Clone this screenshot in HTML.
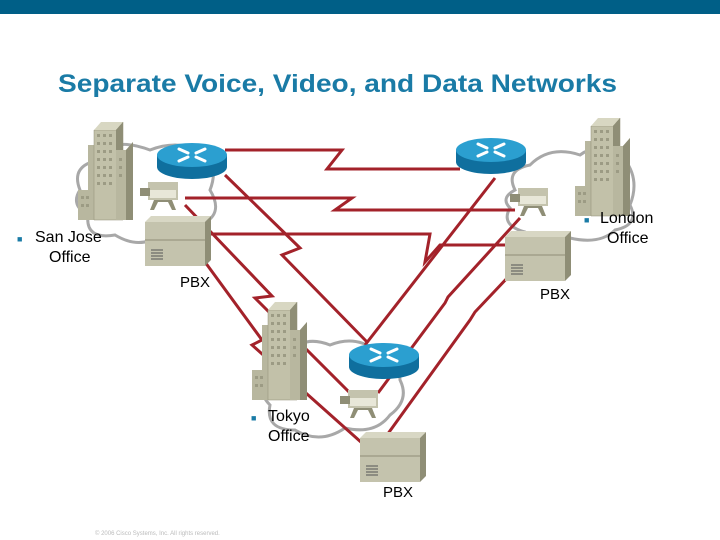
<!DOCTYPE html>
<html><head><meta charset="utf-8"><style>
html,body{margin:0;padding:0;background:#fff}
svg{display:block}
</style></head><body>
<svg width="720" height="540" viewBox="0 0 720 540" xmlns="http://www.w3.org/2000/svg" font-family="Liberation Sans, sans-serif">
<defs>
<g id="bld">
 <polygon points="10,25 22,25 26,20 26,95 10,95" fill="#b8b79f"/>
 <polygon points="22,25 26,20 26,95 22,95" fill="#8f8e76"/>
 <polygon points="0,70 12,70 16,65 16,100 0,100" fill="#b8b79f"/>
 <polygon points="16,10 38,10 45,2 45,100 16,100" fill="#c2c1a9" stroke="#8f8e76" stroke-width="0.5"/>
 <polygon points="16,10 23,2 45,2 38,10" fill="#d8d7c2"/>
 <polygon points="38,10 45,2 45,100 38,100" fill="#8f8e76"/>
 <polygon points="38,30 48,30 55,22 55,100 38,100" fill="#b8b79f"/>
 <polygon points="48,30 55,22 55,100 48,100" fill="#8f8e76"/>
 <g fill="#9c9b84">
  <rect x="19" y="14" width="3" height="3"/><rect x="25" y="14" width="3" height="3"/><rect x="31" y="14" width="3" height="3"/>
  <rect x="19" y="22" width="3" height="3"/><rect x="25" y="22" width="3" height="3"/><rect x="31" y="22" width="3" height="3"/>
  <rect x="19" y="30" width="3" height="3"/><rect x="25" y="30" width="3" height="3"/><rect x="31" y="30" width="3" height="3"/>
  <rect x="19" y="38" width="3" height="3"/><rect x="25" y="38" width="3" height="3"/><rect x="31" y="38" width="3" height="3"/>
  <rect x="19" y="46" width="3" height="3"/><rect x="25" y="46" width="3" height="3"/><rect x="31" y="46" width="3" height="3"/>
  <rect x="19" y="54" width="3" height="3"/><rect x="25" y="54" width="3" height="3"/><rect x="31" y="54" width="3" height="3"/>
  <rect x="19" y="62" width="3" height="3"/><rect x="25" y="62" width="3" height="3"/><rect x="31" y="62" width="3" height="3"/>
  <rect x="41" y="38" width="3" height="3"/><rect x="41" y="46" width="3" height="3"/><rect x="41" y="54" width="3" height="3"/>
  <rect x="3" y="76" width="3" height="3"/><rect x="8" y="76" width="3" height="3"/><rect x="3" y="84" width="3" height="3"/><rect x="8" y="84" width="3" height="3"/>
 </g>
</g>
<g id="router">
 <path d="M0,12 L0,24 A35,12 0 0 0 70,24 L70,12 Z" fill="#0f6f9e"/>
 <ellipse cx="35" cy="12" rx="35" ry="12" fill="#2b9fd0"/>
 <g stroke="#fff" stroke-width="3" stroke-linecap="round">
  <line x1="22" y1="6" x2="31" y2="10"/><line x1="48" y1="6" x2="39" y2="10"/>
  <line x1="22" y1="18" x2="31" y2="14"/><line x1="48" y1="18" x2="39" y2="14"/>
 </g>
</g>
<g id="pbx">
 <polygon points="0,6 6,0 66,0 60,6" fill="#d8d7c4"/>
 <polygon points="60,6 66,0 66,44 60,50" fill="#8f8e76"/>
 <rect x="0" y="6" width="60" height="44" fill="#c4c3ad"/>
 <line x1="0" y1="24" x2="60" y2="24" stroke="#8f8e76"/>
 <g stroke="#555" stroke-width="1"><line x1="6" y1="34" x2="18" y2="34"/><line x1="6" y1="37" x2="18" y2="37"/><line x1="6" y1="40" x2="18" y2="40"/><line x1="6" y1="43" x2="18" y2="43"/></g>
</g>
<g id="cam">
 <rect x="8" y="0" width="30" height="18" fill="#c4c3ad"/>
 <rect x="10" y="8" width="26" height="8" fill="#e8e7d8"/>
 <rect x="0" y="6" width="10" height="8" fill="#8f8e76"/>
 <polygon points="14,18 10,28 14,28 18,20 28,20 32,28 36,28 32,18" fill="#8f8e76"/>
</g>
</defs>

<rect x="0" y="0" width="720" height="14" fill="#005f87"/>
<text x="58" y="92" font-size="25" font-weight="bold" fill="#1a7ba6" textLength="559" lengthAdjust="spacingAndGlyphs">Separate Voice, Video, and Data Networks</text>

<!-- clouds -->
<g fill="none" stroke="#a8a8a8" stroke-width="3">
 <path d="M80,190 Q70,165 100,160 Q110,135 150,150 Q175,140 200,150 Q220,165 210,190 Q225,215 200,225 Q190,245 160,235 Q140,250 115,235 Q85,240 88,215 Q70,205 80,190 Z"/>
 <path d="M515,190 Q505,170 530,165 Q550,145 580,155 Q600,140 625,160 Q640,180 630,205 Q640,225 615,230 Q600,245 570,238 Q545,250 525,232 Q500,225 510,208 Q500,198 515,190 Z"/>
 <path d="M270,375 Q262,355 290,352 Q305,335 330,345 Q355,335 375,350 Q400,355 400,380 Q410,400 390,415 Q375,435 345,428 Q320,445 295,430 Q265,430 270,405 Q255,390 270,375 Z"/>
</g>

<!-- red links -->
<g fill="none" stroke="#a3222a" stroke-width="3" stroke-linejoin="miter">
 <path d="M225,150 L342,150 L327,169 L460,169"/>
 <path d="M185,198 L352,198 L335,210 L515,210"/>
 <path d="M208,234 L430,234 L425,262 L440,245 L505,245"/>
 <path d="M225,175 L300,248 L282,255 L368,343"/>
 <path d="M185,205 L272,296 L255,298 L352,395"/>
 <path d="M205,262 L262,340 L252,345 L362,443"/>
 <path d="M495,178 L365,345"/>
 <path d="M520,218 L448,297 L445,303 L378,393"/>
 <path d="M510,275 L475,312 L470,320 L387,435"/>
</g>

<!-- devices -->
<use href="#bld" x="78" y="120"/>
<use href="#router" x="157" y="143"/>
<use href="#cam" x="140" y="182"/>
<use href="#pbx" x="145" y="216"/>

<use href="#bld" x="575" y="116"/>
<use href="#router" x="456" y="138"/>
<use href="#cam" x="510" y="188" transform="translate(1063,0) scale(-1,1) translate(-1063,0) translate(1063,0) scale(-1,1) translate(-1063,0)"/>
<use href="#pbx" x="505" y="231"/>

<use href="#bld" x="252" y="300"/>
<use href="#router" x="349" y="343"/>
<use href="#cam" x="340" y="390"/>
<use href="#pbx" x="360" y="432"/>

<!-- labels -->
<g font-size="16" fill="#000">
 <text x="17" y="242" font-size="9" fill="#1a7ba6">■</text>
 <text x="35" y="242">San Jose</text>
 <text x="49" y="262">Office</text>
 <text x="584" y="223" font-size="9" fill="#1a7ba6">■</text>
 <text x="600" y="223">London</text>
 <text x="607" y="243">Office</text>
 <text x="251" y="421" font-size="9" fill="#1a7ba6">■</text>
 <text x="268" y="421">Tokyo</text>
 <text x="268" y="441">Office</text>
 <text x="180" y="287" font-size="15">PBX</text>
 <text x="540" y="299" font-size="15">PBX</text>
 <text x="383" y="497" font-size="15">PBX</text>
</g>
<text x="95" y="535" font-size="6" fill="#bbb">© 2006 Cisco Systems, Inc. All rights reserved.</text>
</svg>
</body></html>
